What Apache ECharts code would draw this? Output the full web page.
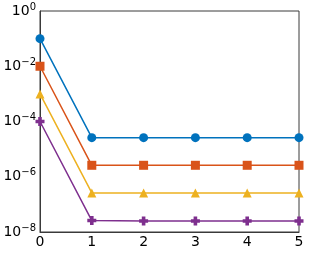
<!DOCTYPE html>
<html><head><meta charset="utf-8">
<script src="https://cdn.jsdelivr.net/npm/echarts@6/dist/echarts.min.js"></script>
<style>html,body{margin:0;padding:0;background:#fff}#c{width:310px;height:254px}</style>
</head><body><div id="c"></div>
<script>
var xValues = [0, 1, 2, 3, 4, 5];
var seriesA = [1e-1, 2.6e-5, 2.6e-5, 2.6e-5, 2.6e-5, 2.6e-5];
var seriesB = [1e-2, 2.6e-6, 2.6e-6, 2.6e-6, 2.6e-6, 2.6e-6];
var seriesC = [1e-3, 2.6e-7, 2.6e-7, 2.6e-7, 2.6e-7, 2.6e-7];
var seriesD = [1e-4, 2.6e-8, 2.5e-8, 2.5e-8, 2.5e-8, 2.5e-8];
var colors = ['#0072BD', '#D95319', '#EDB120', '#7E2F8E'];
var plusPath = 'path://M3,0H7V3H10V7H7V10H3V7H0V3H3Z';
function pairs(ys){ return xValues.map(function(x,i){ return [x, ys[i]]; }); }
function mk(ys, color, symbol, size){
  return {type:'line', data:pairs(ys), symbol:symbol, symbolSize:size, showSymbol:true,
    lineStyle:{color:color, width:1.5}, itemStyle:{color:color}, animation:false};
}
var chart = echarts.init(document.getElementById('c'));
chart.setOption({
  animation:false,
  grid:{left:40, right:11, top:11, bottom:22, show:true, borderColor:'#3a3a3a', borderWidth:1, backgroundColor:'transparent'},
  xAxis:{type:'value', min:0, max:5, interval:1,
    axisLine:{lineStyle:{color:'#3a3a3a'}}, axisTick:{show:false},
    splitLine:{show:false},
    axisLabel:{color:'#000', fontSize:14, fontFamily:'DejaVu Sans', margin:3}},
  yAxis:{type:'log', logBase:10, min:1e-8, max:1, interval:2,
    axisLine:{lineStyle:{color:'#3a3a3a'}}, axisTick:{show:false},
    splitLine:{show:false}, minorTick:{show:false},
    axisLabel:{color:'#000', fontSize:14, fontFamily:'DejaVu Sans', margin:4,
      formatter:function(v){ var e=Math.round(Math.log10(v)); return '10{s|'+(e<0?'\u2212'+(-e):e)+'}'; },
      rich:{s:{fontSize:10, fontFamily:'DejaVu Sans', color:'#000', verticalAlign:'top', padding:[0,0,8,0]}}}},
  series:[
    mk(seriesA, colors[0], 'circle', 9),
    mk(seriesB, colors[1], 'rect', 9),
    mk(seriesC, colors[2], 'triangle', 9),
    mk(seriesD, colors[3], plusPath, 9)
  ]
});
</script></body></html>
